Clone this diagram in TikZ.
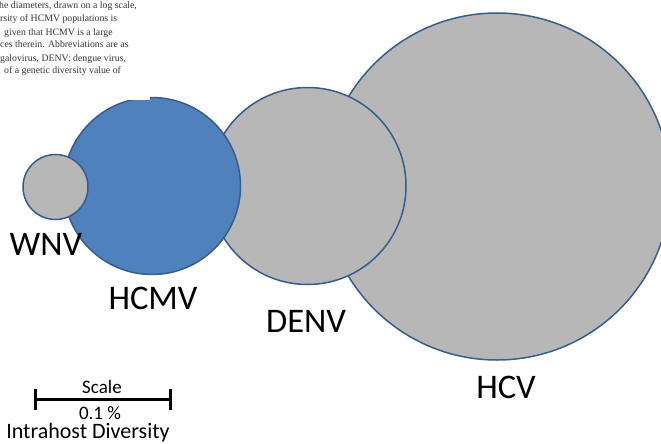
\documentclass[tikz,border=0pt]{standalone}
\usepackage{fontspec}
\setmainfont{Carlito}
\newfontfamily\capfont{Liberation Serif}
\definecolor{bubblegray}{RGB}{183,183,183}
\definecolor{bubbleblue}{RGB}{79,129,189}
\definecolor{rimblue}{RGB}{56,93,138}
\definecolor{captext}{RGB}{55,55,55}
\begin{document}
\begin{tikzpicture}[x=1pt,y=-1pt,
  bubble/.style={circle, draw=rimblue, line width=1.5pt, inner sep=0pt, fill=bubblegray},
  virus/.style={font=\fontsize{34.5}{38}\selectfont, anchor=base, inner sep=0pt},
  scaletext/.style={font=\fontsize{19}{22}\selectfont, anchor=base, inner sep=0pt},
  captionline/.style={font=\capfont\fontsize{9.8}{13}\selectfont, text=captext, anchor=base west, inner sep=0pt},
  scalebar/.style={line width=3pt}]
\useasboundingbox (0,0) rectangle (661,444);
% bubbles, largest first
\node[bubble, minimum size=347pt] (hcv) at (497,186.5) {};
\node[bubble, minimum size=197pt] (denv) at (307.5,186) {};
\node[bubble, fill=bubbleblue, minimum size=177pt] (hcmv) at (152,186) {};
% white patch of the cropped caption over the top of HCMV
\fill[white] (0,0) rectangle (150,100);
\node[bubble, minimum size=65pt] (wnv) at (55.5,187) {};
% labels
\node[virus] (lwnv) at (46,255) {WNV};
\node[virus] (lhcmv) at (153,309) {HCMV};
\node[virus] (ldenv) at (306,332) {DENV};
\node[virus] (lhcv) at (506,398) {HCV};
% scale bar
\coordinate (sl) at (35,399);
\coordinate (sr) at (170,399);
\draw[scalebar] (sl) -- (sr);
\draw[scalebar] ([yshift=-10.5pt]sl) -- ([yshift=10.5pt]sl);
\draw[scalebar] ([yshift=-10.5pt]sr) -- ([yshift=10.5pt]sr);
\node[scaletext] (lscale) at (102,393) {Scale};
\node[scaletext] (lpct) at (100,419) {0.1 \%};
\node[scaletext, font=\fontsize{22}{26}\selectfont] (ldiv) at (88,438.5) {Intrahost Diversity};
% cropped caption fragment
\node[captionline] (c1) at (-1,9) {he diameters, drawn on a log scale,};
\node[captionline] (c2) at (0,22) {rsity of HCMV populations is};
\node[captionline] (c3) at (4,36) {given that HCMV is a large};
\node[captionline] (c4) at (0,48) {ces therein. Abbreviations are as};
\node[captionline] (c5) at (0,62) {galovirus, DENV: dengue virus,};
\node[captionline] (c6) at (4,74) {of a genetic diversity value of};
\end{tikzpicture}
\end{document}
